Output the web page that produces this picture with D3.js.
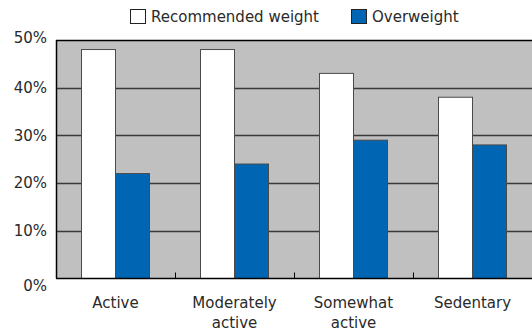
<!DOCTYPE html>
<html>
<head>
<meta charset="utf-8">
<script src="https://cdn.jsdelivr.net/npm/d3@7"></script>
<style>
  html, body { margin: 0; padding: 0; background: #fff; }
  svg text { font-family: "DejaVu Sans", sans-serif; fill: #2a2a2a; }
</style>
</head>
<body>
<svg id="chart" width="532" height="332"></svg>
<script>
// Share of people at a recommended weight vs. overweight, by activity level
const categories = ["Active", "Moderately active", "Somewhat active", "Sedentary"];
const categoryLines = [["Active"], ["Moderately", "active"], ["Somewhat", "active"], ["Sedentary"]];
const seriesNames = ["Recommended weight", "Overweight"];
const recommended = [48, 48, 43, 38];
const overweight = [22, 24, 29, 28];
const yTicks = [0, 10, 20, 30, 40, 50];

const colors = { "Recommended weight": "#ffffff", "Overweight": "#0066b3" };

const svg = d3.select("#chart");
const margin = { top: 40, right: 0, bottom: 53.5, left: 56 };
const W = 532, H = 332;
const innerW = W - margin.left - margin.right;
const innerH = H - margin.top - margin.bottom;

const g = svg.append("g").attr("transform", `translate(${margin.left},${margin.top})`);

const x = d3.scaleBand().domain(categories).range([0, innerW]).paddingInner(0).paddingOuter(0);
const xs = d3.scaleBand().domain(seriesNames).range([0, x.bandwidth()]).paddingInner(0).paddingOuter(0.75);
const y = d3.scaleLinear().domain([0, 50]).range([innerH, 0]);

// plot background
g.append("rect").attr("x", 0).attr("y", 0).attr("width", innerW).attr("height", innerH).attr("fill", "#c0c0c0");

// gridlines
g.append("g").selectAll("line").data(yTicks.filter(d => d > 0 && d < 50)).join("line")
  .attr("x1", 0).attr("x2", innerW)
  .attr("y1", d => Math.round(y(d)) + 0.5).attr("y2", d => Math.round(y(d)) + 0.5)
  .attr("stroke", "#3a3a3a").attr("stroke-width", 1.5);

// top border
g.append("line").attr("x1", 0).attr("x2", innerW).attr("y1", 0.5).attr("y2", 0.5)
  .attr("stroke", "#000").attr("stroke-width", 1.5);

// bars
const rows = categories.map((c, i) => ({ cat: c, vals: [
  { key: seriesNames[0], v: recommended[i] },
  { key: seriesNames[1], v: overweight[i] }
]}));

const groups = g.append("g").selectAll("g").data(rows).join("g")
  .attr("transform", d => `translate(${x(d.cat)},0)`);
groups.selectAll("rect").data(d => d.vals).join("rect")
  .attr("x", d => xs(d.key))
  .attr("y", d => y(d.v))
  .attr("width", xs.bandwidth())
  .attr("height", d => innerH - y(d.v))
  .attr("fill", d => colors[d.key])
  .attr("stroke", "#4a4a4a").attr("stroke-width", 1);

// x axis with inward ticks at category boundaries
g.append("g").selectAll("line").data(categories.slice(1)).join("line")
  .attr("x1", d => Math.round(x(d)) + 0.5).attr("x2", d => Math.round(x(d)) + 0.5)
  .attr("y1", innerH - 6).attr("y2", innerH)
  .attr("stroke", "#000").attr("stroke-width", 1);
g.append("line").attr("x1", 0).attr("x2", innerW).attr("y1", innerH).attr("y2", innerH)
  .attr("stroke", "#000").attr("stroke-width", 1.5);
g.append("line").attr("x1", 0.5).attr("x2", 0.5).attr("y1", 0).attr("y2", innerH)
  .attr("stroke", "#000").attr("stroke-width", 1.5);

// category labels
const xl = g.append("g").selectAll("text").data(categories).join("text")
  .attr("x", d => x(d) + x.bandwidth() / 2)
  .attr("y", innerH + 29)
  .attr("text-anchor", "middle")
  .attr("font-size", 15);
xl.each(function(d, i) {
  d3.select(this).selectAll("tspan").data(categoryLines[i]).join("tspan")
    .attr("x", x(d) + x.bandwidth() / 2)
    .attr("dy", (t, j) => j === 0 ? 0 : 20)
    .text(t => t);
});

// y labels
g.append("g").selectAll("text").data(yTicks).join("text")
  .attr("x", -9)
  .attr("y", d => y(d) + (d === 0 ? 7 : d === 50 ? -2 : 0))
  .attr("dy", "0.35em")
  .attr("text-anchor", "end")
  .attr("font-size", 15)
  .text(d => d + "%");

// legend
const legendItems = [
  { key: seriesNames[0], bx: 130, tx: 151 },
  { key: seriesNames[1], bx: 351, tx: 372 }
];
const lg = svg.append("g");
lg.selectAll("rect").data(legendItems).join("rect")
  .attr("x", d => d.bx + 0.5).attr("y", 9.5).attr("width", 15).attr("height", 14)
  .attr("fill", d => colors[d.key]).attr("stroke", "#222").attr("stroke-width", 1);
lg.selectAll("text").data(legendItems).join("text")
  .attr("x", d => d.tx).attr("y", 17).attr("dy", "0.35em")
  .attr("font-size", 15)
  .text(d => d.key);
</script>
</body>
</html>
